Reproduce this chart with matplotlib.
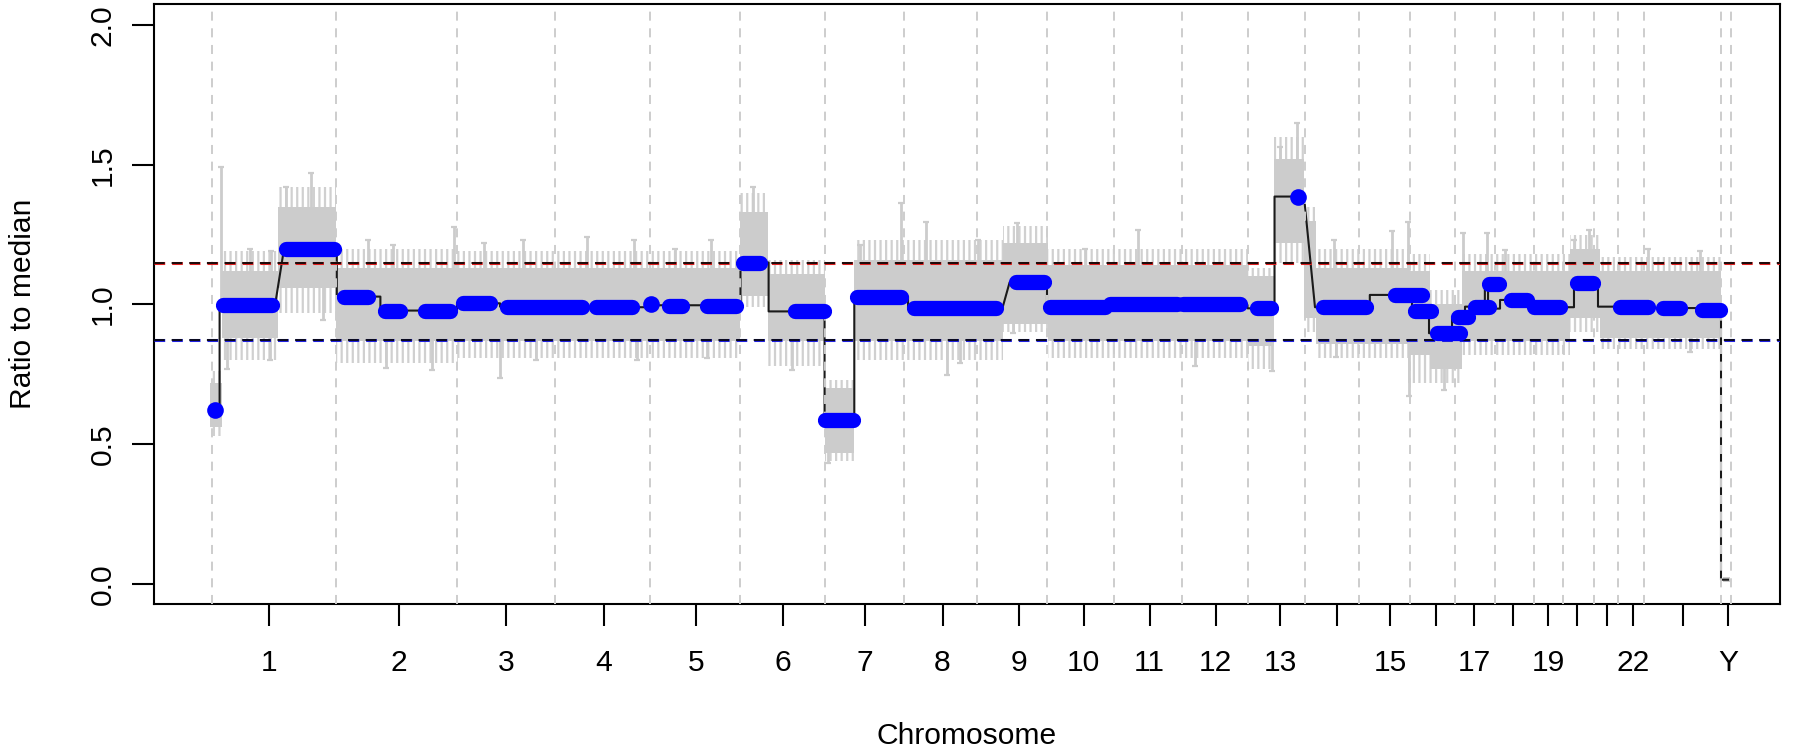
import matplotlib
matplotlib.use("Agg")
import matplotlib.pyplot as plt
import numpy as np

plt.rcParams["font.family"] = ["Liberation Sans", "DejaVu Sans"]
plt.rcParams["lines.scale_dashes"] = False
plt.rcParams["hatch.linewidth"] = 1.6

# ---------------- data ----------------
chrom_names = [str(i) for i in range(1, 23)] + ["X", "Y"]
chrom_len = [249.25, 243.2, 198.0, 191.15, 180.9, 171.1, 159.1, 146.4, 141.2, 135.5,
             135.0, 133.85, 115.2, 107.35, 102.5, 90.35, 81.2, 78.1, 59.1, 63.0,
             48.1, 51.3, 155.3, 20.0]
tick_pos = [113.9, 376.1, 591.5, 787.9, 973.6, 1148.9, 1313.9, 1469.8, 1623.0, 1753.7,
            1886.5, 2019.5, 2149.0, 2263.2, 2370.2, 2462.0, 2539.8, 2617.7, 2688.1,
            2746.1, 2806.8, 2858.7, 2958.9, 3050.3]
tick_labels = ["1", "2", "3", "4", "5", "6", "7", "8", "9", "10", "11", "12", "13", "",
               "15", "", "17", "", "19", "", "", "22", "", "Y"]

# segmentation line (black)
seg_start = [0, 15.3, 144.9, 251.1, 338.8, 492.9, 579.5, 758.5, 881.3, 1063.3, 1119.9,
             1232.5, 1292.3, 1400.4, 1604.8, 1680.0, 1814.8, 1953.7, 2083.4, 2137.8,
             2219.2, 2329.5, 2414.4, 2448.6, 2494.9, 2521.0, 2561.0, 2567.4, 2591.5,
             2647.8, 2740.3, 2788.6, 2824.8, 2903.3, 2993.9, 3036.1]
seg_end = [15.3, 126.8, 251.1, 338.8, 492.9, 579.5, 758.5, 881.3, 1063.3, 1119.9, 1232.5,
           1292.3, 1400.4, 1590.5, 1680.0, 1814.8, 1953.7, 2083.4, 2137.8, 2197.1,
           2329.5, 2414.4, 2448.6, 2494.9, 2521.0, 2561.0, 2567.4, 2591.5, 2647.8,
           2740.3, 2788.6, 2824.8, 2903.3, 2993.9, 3036.1, 3050.2]
seg_val = [0.623, 0.997, 1.199, 1.028, 0.978, 1.004, 0.992, 0.990, 0.997, 1.150, 0.975,
           0.587, 1.028, 0.988, 1.079, 0.992, 1.002, 0.998, 0.986, 1.386,
           0.990, 1.034, 0.978, 0.897, 0.956, 0.992, 1.072, 0.985, 1.016,
           0.990, 1.076, 0.992, 0.990, 0.987, 0.980, 0.015]

# blue segment points (runs of bins)
blue_start = [6.0, 22.1, 148.9, 265.6, 348.1, 428.6, 505.0, 593.5, 772.6, 883.3, 919.5,
              995.9, 1068.4, 1173.2, 1233.6, 1297.7, 1412.4, 1617.6, 1686.1, 1806.8,
              1953.7, 2102.5, 2184.1, 2235.3, 2379.5, 2421.4, 2465.6, 2507.9, 2542.0,
              2570.2, 2614.4, 2660.5, 2746.4, 2832.9, 2919.4, 2997.9]
blue_end = [6.0, 120.7, 245.5, 313.9, 378.3, 478.9, 559.3, 744.4, 845.0, 883.3, 945.7,
            1054.3, 1102.6, 1231.5, 1289.9, 1386.3, 1577.4, 1674.0, 1796.7, 1941.6,
            2068.3, 2130.7, 2184.1, 2321.8, 2433.8, 2453.6, 2511.9, 2528.0, 2570.2,
            2590.3, 2646.6, 2712.8, 2778.6, 2889.2, 2953.6, 3034.1]
blue_val = [0.623, 0.997, 1.199, 1.028, 0.977, 0.977, 1.004, 0.992, 0.990, 1.000, 0.996,
            0.996, 1.150, 0.975, 0.587, 1.028, 0.988, 1.079, 0.992, 1.002,
            1.000, 0.986, 1.386, 0.990, 1.034, 0.978, 0.897, 0.956, 0.992,
            1.072, 1.016, 0.990, 1.076, 0.990, 0.987, 0.980]

# grey ratio spread per region (dense core and sparse outer range)
grey_start = [-4.0, 20.1, 132.8, 249.5, 494.9, 1062.3, 1118.7, 1232.5, 1291.7, 1591.5,
              1682.0, 2084.4, 2136.7, 2197.1, 2221.2, 2406.4, 2450.6, 2515.0, 2732.3,
              2792.7, 3040.1]
grey_end = [20.1, 132.8, 249.5, 494.9, 1062.3, 1118.7, 1232.5, 1291.7, 1591.5, 1682.0,
            2084.4, 2136.7, 2197.1, 2221.2, 2406.4, 2450.6, 2515.0, 2732.3, 2792.7,
            3036.1, 3054.2]
core_lo = [0.56, 0.88, 1.06, 0.87, 0.87, 1.03, 0.87, 0.47, 0.87, 0.93, 0.87, 0.85, 1.22,
           0.95, 0.86, 0.82, 0.77, 0.87, 0.95, 0.88, 0.005]
core_hi = [0.72, 1.12, 1.35, 1.13, 1.13, 1.33, 1.11, 0.70, 1.16, 1.22, 1.14, 1.10, 1.52,
           1.30, 1.13, 1.12, 1.00, 1.12, 1.20, 1.12, 0.025]
outer_lo = [0.53, 0.80, 0.97, 0.79, 0.81, 0.99, 0.78, 0.44, 0.80, 0.90, 0.81, 0.77, 1.15,
            0.90, 0.81, 0.72, 0.72, 0.82, 0.90, 0.84, 0.005]
outer_hi = [0.76, 1.19, 1.42, 1.20, 1.19, 1.40, 1.16, 0.73, 1.23, 1.28, 1.20, 1.13, 1.60,
            1.35, 1.20, 1.18, 1.05, 1.18, 1.25, 1.17, 0.025]

# isolated long error bars (position, tip value)
spike_x = [18.9, 76.5, 118.7, 148.3, 198.6, 313.9, 364.0, 486.1, 547.3, 625.7, 755.5,
           849.1, 931.6, 1003.4, 1087.5, 1303.8, 1385.6, 1435.9, 1540.2, 1619.3, 1755.7,
           1863.1, 2183.1, 2148.9, 2257.1, 2374.2, 2405.6, 2516.0, 2564.3, 2602.3,
           2740.3, 2771.3, 2889.2, 2993.9,
           29.8, 115.9, 223.3, 349.5, 442.6, 579.5, 651.3, 856.1, 995.9, 1167.4, 1238.4,
           1478.8, 1504.2, 1611.6, 1977.8, 2132.7, 2260.5, 2409.0, 2478.0, 2973.6]
spike_tip = [1.49, 1.20, 1.19, 1.42, 1.47, 1.23, 1.212, 1.278, 1.218, 1.23, 1.24,
             1.23, 1.20, 1.23, 1.42, 1.212, 1.362, 1.296, 1.23, 1.29, 1.20,
             1.267, 1.648, 1.565, 1.23, 1.261, 1.296, 1.255, 1.255, 1.195,
             1.23, 1.267, 1.20, 1.19,
             0.77, 0.80, 0.945, 0.771, 0.766, 0.736, 0.801, 0.80, 0.81, 0.766, 0.432,
             0.748, 0.79, 0.897, 0.778, 0.76, 0.813, 0.671, 0.694, 0.83]

thr_gain = 1.149
thr_loss = 0.871

# ---------------- figure ----------------
W, H = 1798, 753
fig = plt.figure(figsize=(W / 100, H / 100), dpi=100)
ax = fig.add_axes([153.7 / W, 1 - 604 / H, (1779.6 - 153.7) / W, 600 / H])
ax.set_xlim(-117.3, 3154.0)
ax.set_ylim(-0.072, 2.075)

grey = "#cccccc"
# grey spread: sparse outer whiskers (hatched) and dense core
for s, e, lo, hi in zip(grey_start, grey_end, outer_lo, outer_hi):
    ax.fill_between([s, e], [lo, lo], [hi, hi], facecolor="none", edgecolor="#d0d0d0",
                    hatch="|||", lw=0, zorder=1)
for s, e, lo, hi in zip(grey_start, grey_end, core_lo, core_hi):
    ax.fill_between([s, e], [lo, lo], [hi, hi], color=grey, lw=0, zorder=1.1)

# black segmentation path
px, py = [], []
for s, e, v in zip(seg_start, seg_end, seg_val):
    px += [s, e]
    py += [v, v]
px = np.array(px)
py = np.array(py)

base = np.interp(spike_x, px, py)
ax.vlines(spike_x, base, spike_tip, colors=grey, lw=2.0, zorder=1.2)
ax.plot(spike_x, spike_tip, ls="none", marker="_", ms=5, mew=1.6, color=grey, zorder=1.2)

ax.plot(px, py, color="#1a1a1a", lw=1.5, zorder=3)

# chromosome boundaries
bounds = np.concatenate([[0], np.cumsum(chrom_len)])
ax.vlines(bounds, -0.072, 2.075, colors="#cdcdcd", linestyles=(0, (6.5, 5.5)), lw=1.4, zorder=3.5)

# thresholds
ax.axhline(thr_gain, color="#e02020", ls=(0, (7.7, 5.0)), lw=2.2, zorder=4)
ax.axhline(thr_gain, color="#1a0a0a", ls=(0, (7.7, 5.0)), lw=1.4, zorder=4.1)
ax.axhline(thr_loss, color="#2020e0", ls=(0, (7.7, 5.0)), lw=2.2, zorder=4)
ax.axhline(thr_loss, color="#0a0a1a", ls=(0, (7.7, 5.0)), lw=1.4, zorder=4.1)

# blue segments
for s, e, v in zip(blue_start, blue_end, blue_val):
    if e - s < 1e-6:
        ax.plot([s], [v], ls="none", marker="o", ms=12, color="#0000ff", mew=0, zorder=5)
    else:
        ax.plot([s, e], [v, v], color="#0000ff", lw=11, solid_capstyle="round", zorder=5)

# axes style
for sp in ax.spines.values():
    sp.set_linewidth(1.5)
    sp.set_color("black")
ax.set_xticks(tick_pos)
ax.set_xticklabels(tick_labels)
ax.set_yticks([0.0, 0.5, 1.0, 1.5, 2.0])
ax.set_yticklabels(["0.0", "0.5", "1.0", "1.5", "2.0"])
ax.tick_params(axis="both", direction="out", length=15.5, width=1.5, labelsize=21.6, colors="black")
ax.tick_params(axis="x", pad=17)
ax.tick_params(axis="y", pad=11)
for lab in ax.get_yticklabels():
    lab.set_rotation(90)
    lab.set_va("center")

fig.text(966.6 / W, 1 - 735.6 / H, "Chromosome", ha="center", va="center", fontsize=21.6)
fig.text(23 / W, 1 - 304 / H, "Ratio to median", ha="center", va="center", rotation=90, fontsize=21.6)

fig.savefig("out.png", dpi=100)
